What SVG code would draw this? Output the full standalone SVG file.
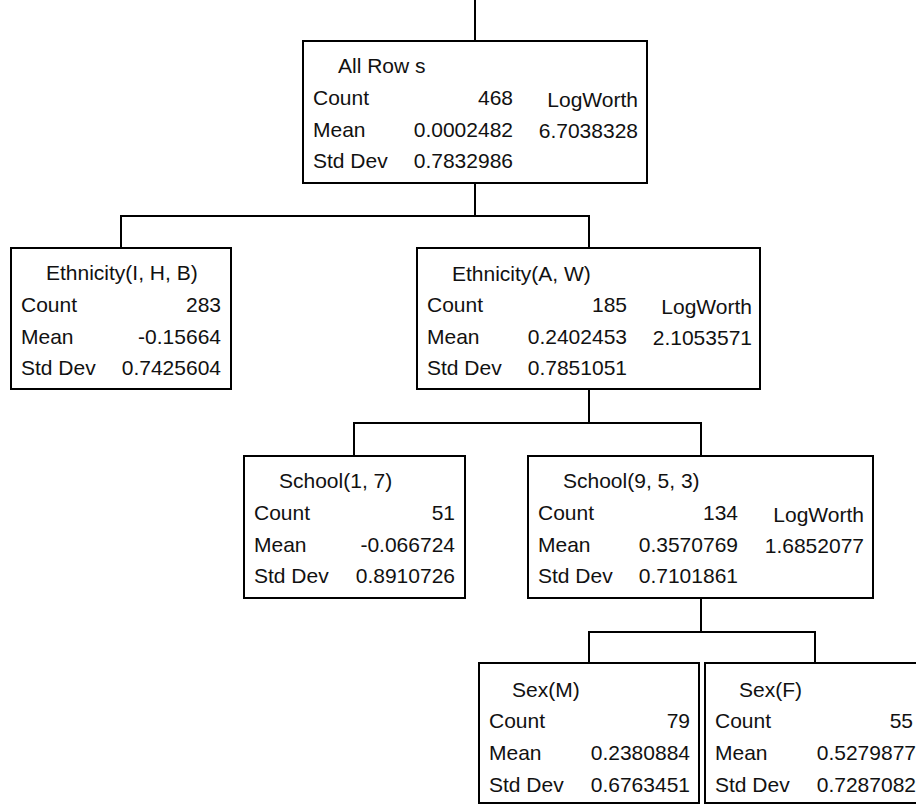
<svg xmlns="http://www.w3.org/2000/svg" width="916" height="806" viewBox="0 0 916 806">
<style>
  .box { fill: #fff; stroke: #000; stroke-width: 2; }
  .conn { fill: none; stroke: #000; stroke-width: 2; }
  text { font-family: "Liberation Sans", Arial, sans-serif; font-size: 21px; fill: #111; }
  .v { text-anchor: end; }
</style>
<rect width="916" height="806" fill="#fff"/>
<g id="connectors">
  <path class="conn" d="M475 0 V41"/>
  <path class="conn" d="M475 183 V216 M121 248 V216 H589 V248"/>
  <path class="conn" d="M589 389 V423 M354 456 V423 H701 V456"/>
  <path class="conn" d="M701 598 V632 M589 663 V632 H815 V663"/>
</g>
<g id="node-all-rows">
  <rect class="box" x="303" y="41" width="344" height="142"/>
  <text x="338" y="73">All Row s</text>
  <text x="313" y="105">Count</text><text class="v" x="513" y="105">468</text>
  <text x="313" y="137">Mean</text><text class="v" x="513" y="137">0.0002482</text>
  <text x="313" y="168">Std Dev</text><text class="v" x="513" y="168">0.7832986</text>
  <text class="v" x="638" y="107">LogWorth</text>
  <text class="v" x="638" y="138">6.7038328</text>
</g>
<g id="node-eth-ihb">
  <rect class="box" x="11" y="248" width="220" height="141"/>
  <text x="46" y="280">Ethnicity(I, H, B)</text>
  <text x="21" y="312">Count</text><text class="v" x="221" y="312">283</text>
  <text x="21" y="344">Mean</text><text class="v" x="221" y="344">-0.15664</text>
  <text x="21" y="375">Std Dev</text><text class="v" x="221" y="375">0.7425604</text>
</g>
<g id="node-eth-aw">
  <rect class="box" x="417" y="248" width="343" height="141"/>
  <text x="452" y="281">Ethnicity(A, W)</text>
  <text x="427" y="312">Count</text><text class="v" x="627" y="312">185</text>
  <text x="427" y="344">Mean</text><text class="v" x="627" y="344">0.2402453</text>
  <text x="427" y="375">Std Dev</text><text class="v" x="627" y="375">0.7851051</text>
  <text class="v" x="752" y="314">LogWorth</text>
  <text class="v" x="752" y="345">2.1053571</text>
</g>
<g id="node-school-17">
  <rect class="box" x="244" y="456" width="221" height="142"/>
  <text x="279" y="488">School(1, 7)</text>
  <text x="254" y="520">Count</text><text class="v" x="455" y="520">51</text>
  <text x="254" y="552">Mean</text><text class="v" x="455" y="552">-0.066724</text>
  <text x="254" y="583">Std Dev</text><text class="v" x="455" y="583">0.8910726</text>
</g>
<g id="node-school-953">
  <rect class="box" x="528" y="456" width="345" height="142"/>
  <text x="563" y="488">School(9, 5, 3)</text>
  <text x="538" y="520">Count</text><text class="v" x="738" y="520">134</text>
  <text x="538" y="552">Mean</text><text class="v" x="738" y="552">0.3570769</text>
  <text x="538" y="583">Std Dev</text><text class="v" x="738" y="583">0.7101861</text>
  <text class="v" x="864" y="522">LogWorth</text>
  <text class="v" x="864" y="553">1.6852077</text>
</g>
<g id="node-sex-m">
  <rect class="box" x="479" y="663" width="220" height="140"/>
  <text x="512" y="697">Sex(M)</text>
  <text x="489" y="728">Count</text><text class="v" x="690" y="728">79</text>
  <text x="489" y="760">Mean</text><text class="v" x="690" y="760">0.2380884</text>
  <text x="489" y="792">Std Dev</text><text class="v" x="690" y="792">0.6763451</text>
</g>
<g id="node-sex-f">
  <rect class="box" x="705" y="663" width="220" height="140"/>
  <text x="739" y="697">Sex(F)</text>
  <text x="715" y="728">Count</text><text class="v" x="913" y="728">55</text>
  <text x="715" y="760">Mean</text><text class="v" x="916" y="760">0.5279877</text>
  <text x="715" y="792">Std Dev</text><text class="v" x="916" y="792">0.7287082</text>
</g>
</svg>
